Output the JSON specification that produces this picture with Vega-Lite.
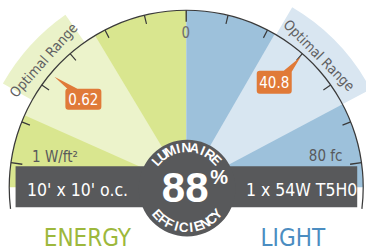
{
 "$schema": "https://vega.github.io/schema/vega-lite/v6.json",
 "width": 366, "height": 251,
 "autosize": {"type": "fit", "contains": "padding"},
 "padding": 0,
 "background": "white",
 "config": {"view": {"stroke": null}},
 "resolve": {"scale": {"theta": "independent", "angle": "independent"}},
 "layer": [
  {"data": {"values": [{"gauge": "ENERGY", "from": -90, "to": 0}]},
   "mark": {"type": "arc", "color": "#d9e68f"},
   "encoding": {
    "x": {"datum": 0, "type": "quantitative", "scale": {"domain": [-108.47, 98.31], "nice": false, "zero": false}, "axis": null},
    "y": {"datum": 0, "type": "quantitative", "scale": {"domain": [-35.59, 106.21], "nice": false, "zero": false}, "axis": null},
    "theta": {"field": "from", "type": "quantitative", "stack": null, "scale": {"domain": [-180, 360], "range": [-3.14159265, 6.28318531], "nice": false, "zero": false}},
    "theta2": {"field": "to"},
    "radius": {"datum": 100, "type": "quantitative", "scale": {"type": "linear", "domain": [0, 100], "range": [0, 177], "nice": false, "zero": true}},
    "radius2": {"datum": 0}
   }},
  {"data": {"values": [{"gauge": "LIGHT", "from": 0, "to": 90}]},
   "mark": {"type": "arc", "color": "#9dc1db"},
   "encoding": {
    "x": {"datum": 0, "type": "quantitative", "scale": {"domain": [-108.47, 98.31], "nice": false, "zero": false}, "axis": null},
    "y": {"datum": 0, "type": "quantitative", "scale": {"domain": [-35.59, 106.21], "nice": false, "zero": false}, "axis": null},
    "theta": {"field": "from", "type": "quantitative", "stack": null, "scale": {"domain": [-180, 360], "range": [-3.14159265, 6.28318531], "nice": false, "zero": false}},
    "theta2": {"field": "to"},
    "radius": {"datum": 100, "type": "quantitative", "scale": {"type": "linear", "domain": [0, 100], "range": [0, 177], "nice": false, "zero": true}},
    "radius2": {"datum": 0}
   }},
  {"data": {"values": [{"gauge": "ENERGY", "from": -66, "to": -31}]},
   "mark": {"type": "arc", "color": "#ecf3cb"},
   "encoding": {
    "x": {"datum": 0, "type": "quantitative", "scale": {"domain": [-108.47, 98.31], "nice": false, "zero": false}, "axis": null},
    "y": {"datum": 0, "type": "quantitative", "scale": {"domain": [-35.59, 106.21], "nice": false, "zero": false}, "axis": null},
    "theta": {"field": "from", "type": "quantitative", "stack": null, "scale": {"domain": [-180, 360], "range": [-3.14159265, 6.28318531], "nice": false, "zero": false}},
    "theta2": {"field": "to"},
    "radius": {"datum": 100, "type": "quantitative", "scale": {"type": "linear", "domain": [0, 100], "range": [0, 177], "nice": false, "zero": true}},
    "radius2": {"datum": 0}
   }},
  {"data": {"values": [{"gauge": "LIGHT", "from": 30, "to": 62}]},
   "mark": {"type": "arc", "color": "#d8e6f1"},
   "encoding": {
    "x": {"datum": 0, "type": "quantitative", "scale": {"domain": [-108.47, 98.31], "nice": false, "zero": false}, "axis": null},
    "y": {"datum": 0, "type": "quantitative", "scale": {"domain": [-35.59, 106.21], "nice": false, "zero": false}, "axis": null},
    "theta": {"field": "from", "type": "quantitative", "stack": null, "scale": {"domain": [-180, 360], "range": [-3.14159265, 6.28318531], "nice": false, "zero": false}},
    "theta2": {"field": "to"},
    "radius": {"datum": 100, "type": "quantitative", "scale": {"type": "linear", "domain": [0, 100], "range": [0, 177], "nice": false, "zero": true}},
    "radius2": {"datum": 0}
   }},
  {"data": {"values": [{"gauge": "ENERGY", "from": -60.5, "to": -35}]},
   "mark": {"type": "arc", "color": "#eaf2c9"},
   "encoding": {
    "x": {"datum": 0, "type": "quantitative", "scale": {"domain": [-108.47, 98.31], "nice": false, "zero": false}, "axis": null},
    "y": {"datum": 0, "type": "quantitative", "scale": {"domain": [-35.59, 106.21], "nice": false, "zero": false}, "axis": null},
    "theta": {"field": "from", "type": "quantitative", "stack": null, "scale": {"domain": [-180, 360], "range": [-3.14159265, 6.28318531], "nice": false, "zero": false}},
    "theta2": {"field": "to"},
    "radius": {"datum": 119, "type": "quantitative", "scale": {"type": "linear", "domain": [0, 100], "range": [0, 177], "nice": false, "zero": true}},
    "radius2": {"datum": 99}
   }},
  {"data": {"values": [{"gauge": "LIGHT", "from": 30.5, "to": 62}]},
   "mark": {"type": "arc", "color": "#d9e6f1"},
   "encoding": {
    "x": {"datum": 0, "type": "quantitative", "scale": {"domain": [-108.47, 98.31], "nice": false, "zero": false}, "axis": null},
    "y": {"datum": 0, "type": "quantitative", "scale": {"domain": [-35.59, 106.21], "nice": false, "zero": false}, "axis": null},
    "theta": {"field": "from", "type": "quantitative", "stack": null, "scale": {"domain": [-180, 360], "range": [-3.14159265, 6.28318531], "nice": false, "zero": false}},
    "theta2": {"field": "to"},
    "radius": {"datum": 118, "type": "quantitative", "scale": {"type": "linear", "domain": [0, 100], "range": [0, 177], "nice": false, "zero": true}},
    "radius2": {"datum": 99}
   }},
  {"data": {"values": [{"from": -97, "to": 97}]},
   "mark": {"type": "arc", "color": "#3a3a3a"},
   "encoding": {
    "x": {"datum": 0, "type": "quantitative", "scale": {"domain": [-108.47, 98.31], "nice": false, "zero": false}, "axis": null},
    "y": {"datum": 0, "type": "quantitative", "scale": {"domain": [-35.59, 106.21], "nice": false, "zero": false}, "axis": null},
    "theta": {"field": "from", "type": "quantitative", "stack": null, "scale": {"domain": [-180, 360], "range": [-3.14159265, 6.28318531], "nice": false, "zero": false}},
    "theta2": {"field": "to"},
    "radius": {"datum": 100.35, "type": "quantitative", "scale": {"type": "linear", "domain": [0, 100], "range": [0, 177], "nice": false, "zero": true}},
    "radius2": {"datum": 99.65}
   }},
  {"data": {"values": [{"a": -68.33}, {"a": -54.67}, {"a": -41}, {"a": -27.33}, {"a": -13.67}, {"a": 13.67}, {"a": 27.33}, {"a": 41}, {"a": 54.67}, {"a": 68.33}]},
   "mark": {"type": "arc", "color": "#3a3a3a", "thetaOffset": -0.0035, "theta2Offset": 0.0035},
   "encoding": {
    "x": {"datum": 0, "type": "quantitative", "scale": {"domain": [-108.47, 98.31], "nice": false, "zero": false}, "axis": null},
    "y": {"datum": 0, "type": "quantitative", "scale": {"domain": [-35.59, 106.21], "nice": false, "zero": false}, "axis": null},
    "theta": {"field": "a", "type": "quantitative", "stack": null, "scale": {"domain": [-180, 360], "range": [-3.14159265, 6.28318531], "nice": false, "zero": false}},
    "theta2": {"field": "a"},
    "radius": {"datum": 100, "type": "quantitative", "scale": {"type": "linear", "domain": [0, 100], "range": [0, 177], "nice": false, "zero": true}},
    "radius2": {"datum": 95}
   }},
  {"data": {"values": [{"a": -82}, {"a": 0}, {"a": 82}]},
   "mark": {"type": "arc", "color": "#3a3a3a", "thetaOffset": -0.004, "theta2Offset": 0.004},
   "encoding": {
    "x": {"datum": 0, "type": "quantitative", "scale": {"domain": [-108.47, 98.31], "nice": false, "zero": false}, "axis": null},
    "y": {"datum": 0, "type": "quantitative", "scale": {"domain": [-35.59, 106.21], "nice": false, "zero": false}, "axis": null},
    "theta": {"field": "a", "type": "quantitative", "stack": null, "scale": {"domain": [-180, 360], "range": [-3.14159265, 6.28318531], "nice": false, "zero": false}},
    "theta2": {"field": "a"},
    "radius": {"datum": 100, "type": "quantitative", "scale": {"type": "linear", "domain": [0, 100], "range": [0, 177], "nice": false, "zero": true}},
    "radius2": {"datum": 93.5}
   }},
  {"data": {"values": [{"band": "fixture"}]},
   "mark": {"type": "rect", "color": "#58595b"},
   "encoding": {
    "x": {"datum": -99.4, "type": "quantitative", "scale": {"domain": [-108.47, 98.31], "nice": false, "zero": false}, "axis": null},
    "x2": {"datum": 99.6},
    "y": {"datum": 11.9, "type": "quantitative", "scale": {"domain": [-35.59, 106.21], "nice": false, "zero": false}, "axis": null},
    "y2": {"datum": -11.3}
   }},
  {"data": {"values": [{"from": 0, "to": 360}]},
   "mark": {"type": "arc", "color": "#58595b"},
   "encoding": {
    "x": {"datum": 0.5, "type": "quantitative", "scale": {"domain": [-108.47, 98.31], "nice": false, "zero": false}, "axis": null},
    "y": {"datum": -0.5, "type": "quantitative", "scale": {"domain": [-35.59, 106.21], "nice": false, "zero": false}, "axis": null},
    "theta": {"field": "from", "type": "quantitative", "stack": null, "scale": {"domain": [-180, 360], "range": [-3.14159265, 6.28318531], "nice": false, "zero": false}},
    "theta2": {"field": "to"},
    "radius": {"datum": 27.3, "type": "quantitative", "scale": {"type": "linear", "domain": [0, 100], "range": [0, 177], "nice": false, "zero": true}},
    "radius2": {"datum": 0}
   }},
  {"data": {"values": [{"label": "88"}]},
   "mark": {"type": "text", "font": "Liberation Sans", "fontWeight": "bold", "fontSize": 42, "color": "white", "align": "center", "baseline": "alphabetic", "dx": -1, "dy": 15},
   "encoding": {
    "x": {"datum": 0, "type": "quantitative", "scale": {"domain": [-108.47, 98.31], "nice": false, "zero": false}, "axis": null},
    "y": {"datum": 0, "type": "quantitative", "scale": {"domain": [-35.59, 106.21], "nice": false, "zero": false}, "axis": null},
    "text": {"field": "label"}
   }},
  {"data": {"values": [{"label": "%"}]},
   "mark": {"type": "text", "font": "Liberation Sans", "fontWeight": "bold", "fontSize": 20, "color": "white", "align": "center", "baseline": "alphabetic", "dx": 33, "dy": -3},
   "encoding": {
    "x": {"datum": 0, "type": "quantitative", "scale": {"domain": [-108.47, 98.31], "nice": false, "zero": false}, "axis": null},
    "y": {"datum": 0, "type": "quantitative", "scale": {"domain": [-35.59, 106.21], "nice": false, "zero": false}, "axis": null},
    "text": {"field": "label"}
   }},
  {"data": {"values": [{"ch": "L", "i": 0}, {"ch": "U", "i": 1}, {"ch": "M", "i": 2}, {"ch": "I", "i": 3}, {"ch": "N", "i": 4}, {"ch": "A", "i": 5}, {"ch": "I", "i": 6}, {"ch": "R", "i": 7}, {"ch": "E", "i": 8}]},
   "mark": {"type": "text", "font": "Liberation Sans", "fontWeight": "bold", "fontSize": 13.5, "color": "white", "align": "center", "baseline": "middle"},
   "encoding": {
    "x": {"datum": 0.5, "type": "quantitative", "scale": {"domain": [-108.47, 98.31], "nice": false, "zero": false}, "axis": null},
    "y": {"datum": -0.5, "type": "quantitative", "scale": {"domain": [-35.59, 106.21], "nice": false, "zero": false}, "axis": null},
    "theta": {"field": "i", "type": "quantitative", "stack": null, "scale": {"domain": [0, 8], "range": [-0.8378, 0.8029], "nice": false, "zero": false}},
    "radius": {"datum": 22.6, "type": "quantitative", "scale": {"type": "linear", "domain": [0, 100], "range": [0, 177], "nice": false, "zero": true}},
    "angle": {"field": "i", "type": "quantitative", "scale": {"domain": [0, 8], "range": [-48, 46], "nice": false, "zero": false}},
    "text": {"field": "ch"}
   }},
  {"data": {"values": [{"ch": "E", "i": 0}, {"ch": "F", "i": 1}, {"ch": "F", "i": 2}, {"ch": "I", "i": 3}, {"ch": "C", "i": 4}, {"ch": "I", "i": 5}, {"ch": "E", "i": 6}, {"ch": "N", "i": 7}, {"ch": "C", "i": 8}, {"ch": "Y", "i": 9}]},
   "mark": {"type": "text", "font": "Liberation Sans", "fontWeight": "bold", "fontSize": 13.5, "color": "white", "align": "center", "baseline": "middle"},
   "encoding": {
    "x": {"datum": 0.5, "type": "quantitative", "scale": {"domain": [-108.47, 98.31], "nice": false, "zero": false}, "axis": null},
    "y": {"datum": -0.5, "type": "quantitative", "scale": {"domain": [-35.59, 106.21], "nice": false, "zero": false}, "axis": null},
    "theta": {"field": "i", "type": "quantitative", "stack": null, "scale": {"domain": [0, 9], "range": [3.9794, 2.2864], "nice": false, "zero": false}},
    "radius": {"datum": 22.6, "type": "quantitative", "scale": {"type": "linear", "domain": [0, 100], "range": [0, 177], "nice": false, "zero": true}},
    "angle": {"field": "i", "type": "quantitative", "scale": {"domain": [0, 9], "range": [48, -49], "nice": false, "zero": false}},
    "text": {"field": "ch"}
   }},
  {"data": {"values": [{"label": "Optimal Range"}]},
   "mark": {"type": "text", "font": "DejaVu Sans Condensed, Liberation Sans", "fontSize": 14, "color": "#5f6062", "align": "center", "baseline": "middle", "angle": -48.3},
   "encoding": {
    "x": {"datum": 0, "type": "quantitative", "scale": {"domain": [-108.47, 98.31], "nice": false, "zero": false}, "axis": null},
    "y": {"datum": 0, "type": "quantitative", "scale": {"domain": [-35.59, 106.21], "nice": false, "zero": false}, "axis": null},
    "theta": {"datum": -48.3, "type": "quantitative", "scale": {"domain": [-180, 360], "range": [-3.14159265, 6.28318531], "nice": false, "zero": false}},
    "radius": {"datum": 107.4, "type": "quantitative", "scale": {"type": "linear", "domain": [0, 100], "range": [0, 177], "nice": false, "zero": true}},
    "text": {"field": "label"}
   }},
  {"data": {"values": [{"label": "Optimal Range"}]},
   "mark": {"type": "text", "font": "DejaVu Sans Condensed, Liberation Sans", "fontSize": 14, "color": "#5f6062", "align": "center", "baseline": "middle", "angle": 45.2},
   "encoding": {
    "x": {"datum": 0, "type": "quantitative", "scale": {"domain": [-108.47, 98.31], "nice": false, "zero": false}, "axis": null},
    "y": {"datum": 0, "type": "quantitative", "scale": {"domain": [-35.59, 106.21], "nice": false, "zero": false}, "axis": null},
    "theta": {"datum": 45.2, "type": "quantitative", "scale": {"domain": [-180, 360], "range": [-3.14159265, 6.28318531], "nice": false, "zero": false}},
    "radius": {"datum": 105.3, "type": "quantitative", "scale": {"type": "linear", "domain": [0, 100], "range": [0, 177], "nice": false, "zero": true}},
    "text": {"field": "label"}
   }},
  {"data": {"values": [{"label": "0"}]},
   "mark": {"type": "text", "font": "DejaVu Sans Condensed, Liberation Sans", "fontSize": 15, "color": "#6d6e71", "align": "center", "baseline": "alphabetic"},
   "encoding": {
    "x": {"datum": -0.2, "type": "quantitative", "scale": {"domain": [-108.47, 98.31], "nice": false, "zero": false}, "axis": null},
    "y": {"datum": 84.7, "type": "quantitative", "scale": {"domain": [-35.59, 106.21], "nice": false, "zero": false}, "axis": null},
    "text": {"field": "label"}
   }},
  {"data": {"values": [{"label": "1 W/ft²"}]},
   "mark": {"type": "text", "font": "DejaVu Sans Condensed, Liberation Sans", "fontSize": 15, "color": "#58595b", "align": "left", "baseline": "alphabetic"},
   "encoding": {
    "x": {"datum": -89.8, "type": "quantitative", "scale": {"domain": [-108.47, 98.31], "nice": false, "zero": false}, "axis": null},
    "y": {"datum": 14.1, "type": "quantitative", "scale": {"domain": [-35.59, 106.21], "nice": false, "zero": false}, "axis": null},
    "text": {"field": "label"}
   }},
  {"data": {"values": [{"label": "80 fc"}]},
   "mark": {"type": "text", "font": "DejaVu Sans Condensed, Liberation Sans", "fontSize": 15, "color": "#58595b", "align": "right", "baseline": "alphabetic"},
   "encoding": {
    "x": {"datum": 91, "type": "quantitative", "scale": {"domain": [-108.47, 98.31], "nice": false, "zero": false}, "axis": null},
    "y": {"datum": 14.7, "type": "quantitative", "scale": {"domain": [-35.59, 106.21], "nice": false, "zero": false}, "axis": null},
    "text": {"field": "label"}
   }},
  {"data": {"values": [{"label": "10' x 10' o.c."}]},
   "mark": {"type": "text", "font": "DejaVu Sans Condensed, Liberation Sans", "fontSize": 17.5, "color": "white", "align": "center", "baseline": "alphabetic"},
   "encoding": {
    "x": {"datum": -63.3, "type": "quantitative", "scale": {"domain": [-108.47, 98.31], "nice": false, "zero": false}, "axis": null},
    "y": {"datum": -5.1, "type": "quantitative", "scale": {"domain": [-35.59, 106.21], "nice": false, "zero": false}, "axis": null},
    "text": {"field": "label"}
   }},
  {"data": {"values": [{"label": "1 x 54W T5H0"}]},
   "mark": {"type": "text", "font": "DejaVu Sans Condensed, Liberation Sans", "fontSize": 17.5, "color": "white", "align": "center", "baseline": "alphabetic"},
   "encoding": {
    "x": {"datum": 67.2, "type": "quantitative", "scale": {"domain": [-108.47, 98.31], "nice": false, "zero": false}, "axis": null},
    "y": {"datum": -5.1, "type": "quantitative", "scale": {"domain": [-35.59, 106.21], "nice": false, "zero": false}, "axis": null},
    "text": {"field": "label"}
   }},
  {"data": {"values": [{"label": "ENERGY"}]},
   "mark": {"type": "text", "font": "DejaVu Sans Condensed, Liberation Sans", "fontSize": 24, "color": "#9db83c", "align": "center", "baseline": "alphabetic"},
   "encoding": {
    "x": {"datum": -57.6, "type": "quantitative", "scale": {"domain": [-108.47, 98.31], "nice": false, "zero": false}, "axis": null},
    "y": {"datum": -33.3, "type": "quantitative", "scale": {"domain": [-35.59, 106.21], "nice": false, "zero": false}, "axis": null},
    "text": {"field": "label"}
   }},
  {"data": {"values": [{"label": "LIGHT"}]},
   "mark": {"type": "text", "font": "DejaVu Sans Condensed, Liberation Sans", "fontSize": 24, "color": "#4b8dc1", "align": "center", "baseline": "alphabetic"},
   "encoding": {
    "x": {"datum": 62.1, "type": "quantitative", "scale": {"domain": [-108.47, 98.31], "nice": false, "zero": false}, "axis": null},
    "y": {"datum": -33.3, "type": "quantitative", "scale": {"domain": [-35.59, 106.21], "nice": false, "zero": false}, "axis": null},
    "text": {"field": "label"}
   }},
  {"data": {"values": [{"gauge": "ENERGY", "value": "0.62"}]},
   "mark": {"type": "point", "shape": "M0,0 L23,12 L44,12 Q47,12 47,15 L47,30 Q47,33 44,33 L14,33 Q11,33 11,30 L11,15 Q11,12 13,12 Z", "size": 4, "filled": true, "color": "#e07a38", "opacity": 1, "strokeWidth": 0},
   "encoding": {
    "x": {"datum": -76.8, "type": "quantitative", "scale": {"domain": [-108.47, 98.31], "nice": false, "zero": false}, "axis": null},
    "y": {"datum": 62.7, "type": "quantitative", "scale": {"domain": [-35.59, 106.21], "nice": false, "zero": false}, "axis": null}
   }},
  {"data": {"values": [{"gauge": "ENERGY", "value": "0.62"}]},
   "mark": {"type": "text", "font": "DejaVu Sans Condensed, Liberation Sans", "fontSize": 15, "color": "white", "align": "center", "baseline": "middle", "dx": 29, "dy": 23},
   "encoding": {
    "x": {"datum": -76.8, "type": "quantitative", "scale": {"domain": [-108.47, 98.31], "nice": false, "zero": false}, "axis": null},
    "y": {"datum": 62.7, "type": "quantitative", "scale": {"domain": [-35.59, 106.21], "nice": false, "zero": false}, "axis": null},
    "text": {"field": "value"}
   }},
  {"data": {"values": [{"gauge": "LIGHT", "value": "40.8"}]},
   "mark": {"type": "point", "shape": "M0,0 L-9,15 L-9,34 Q-9,37 -12,37 L-41,37 Q-44,37 -44,34 L-44,17 Q-44,14 -41,14 L-17,14 Z", "size": 4, "filled": true, "color": "#e07a38", "opacity": 1, "strokeWidth": 0},
   "encoding": {
    "x": {"datum": 66.7, "type": "quantitative", "scale": {"domain": [-108.47, 98.31], "nice": false, "zero": false}, "axis": null},
    "y": {"datum": 74.0, "type": "quantitative", "scale": {"domain": [-35.59, 106.21], "nice": false, "zero": false}, "axis": null}
   }},
  {"data": {"values": [{"gauge": "LIGHT", "value": "40.8"}]},
   "mark": {"type": "text", "font": "DejaVu Sans Condensed, Liberation Sans", "fontSize": 15, "color": "white", "align": "center", "baseline": "middle", "dx": -26.5, "dy": 26},
   "encoding": {
    "x": {"datum": 66.7, "type": "quantitative", "scale": {"domain": [-108.47, 98.31], "nice": false, "zero": false}, "axis": null},
    "y": {"datum": 74.0, "type": "quantitative", "scale": {"domain": [-35.59, 106.21], "nice": false, "zero": false}, "axis": null},
    "text": {"field": "value"}
   }}
 ]
}
